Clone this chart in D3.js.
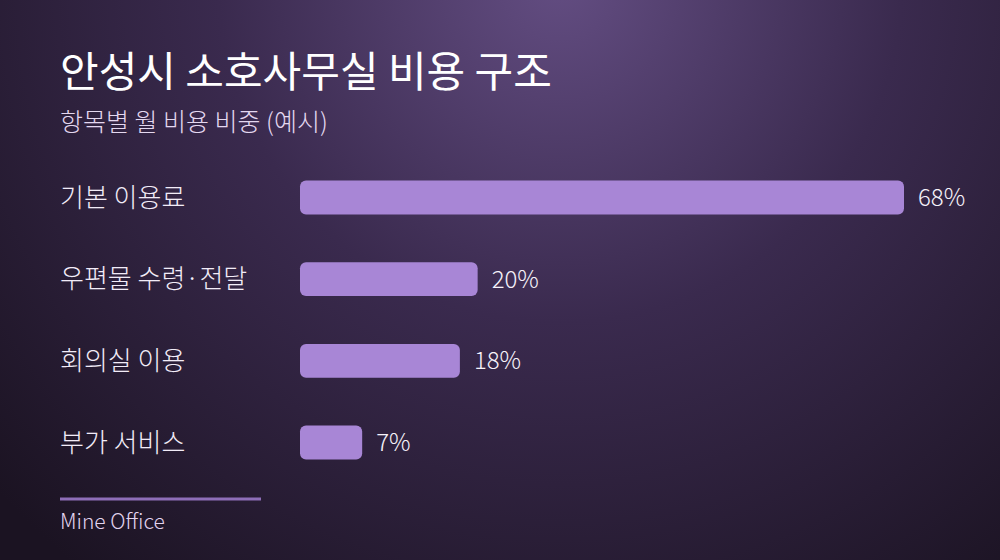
<!DOCTYPE html>
<html>
<head>
<meta charset="utf-8">
<script src="https://cdn.jsdelivr.net/npm/d3@7"></script>
<style>
  html, body { margin: 0; padding: 0; background: #1e1628; }
  svg { display: block; font-family: "Noto Sans CJK KR", "Noto Sans", sans-serif; }
</style>
</head>
<body>
<div id="app"></div>
<script>
// 항목별 비중 (%)
var categories = ['기본 이용료', '우편물 수령·전달', '회의실 이용', '부가 서비스'];
var values = [68, 20, 18, 7];
var valueLabels = ['68%', '20%', '18%', '7%'];

var width = 1000, height = 560;

var svg = d3.select('#app')
    .append('svg')
    .attr('width', width)
    .attr('height', height);

var defs = svg.append('defs');
var bg = defs.append('radialGradient')
    .attr('id', 'bg')
    .attr('gradientUnits', 'userSpaceOnUse')
    .attr('cx', 560).attr('cy', -20).attr('r', 760);
bg.append('stop').attr('offset', '0%').attr('stop-color', '#634d82');
bg.append('stop').attr('offset', '45%').attr('stop-color', '#3a2a4e');
bg.append('stop').attr('offset', '100%').attr('stop-color', '#1b1322');

svg.append('rect')
    .attr('width', width)
    .attr('height', height)
    .attr('fill', 'url(#bg)');

// 제목
svg.append('text')
    .attr('x', 60).attr('y', 87)
    .attr('fill', '#ffffff')
    .style('font-size', '42px')
    .style('font-weight', 400)
    .text('안성시 소호사무실 비용 구조');

svg.append('text')
    .attr('x', 60).attr('y', 131)
    .attr('fill', '#e4d8f0')
    .style('font-size', '25px')
    .style('font-weight', 300)
    .text('항목별 월 비용 비중 (예시)');

var x = d3.scaleLinear()
    .domain([0, 68])
    .range([300, 904]);

var y = d3.scaleBand()
    .domain(categories)
    .range([156, 484])
    .paddingInner(0.585)
    .paddingOuter(0.3);

var rows = svg.append('g')
    .selectAll('g')
    .data(categories)
    .enter()
    .append('g');

rows.append('text')
    .attr('x', 60)
    .attr('y', function (d) { return y(d) + y.bandwidth() / 2; })
    .attr('dy', '0.35em')
    .attr('fill', '#f2ecf8')
    .style('font-size', '26px')
    .style('font-weight', 300)
    .text(function (d) { return d; });

rows.append('rect')
    .attr('x', x(0))
    .attr('y', function (d) { return y(d); })
    .attr('width', function (d, i) { return x(values[i]) - x(0); })
    .attr('height', y.bandwidth())
    .attr('rx', 6)
    .attr('fill', '#a886d6');

rows.append('text')
    .attr('x', function (d, i) { return x(values[i]) + 14; })
    .attr('y', function (d) { return y(d) + y.bandwidth() / 2; })
    .attr('dy', '0.35em')
    .attr('fill', '#f6f2fa')
    .style('font-size', '24px')
    .style('font-weight', 300)
    .text(function (d, i) { return valueLabels[i]; });

// 하단 출처
svg.append('line')
    .attr('x1', 60).attr('x2', 261)
    .attr('y1', 499).attr('y2', 499)
    .attr('stroke', '#8e6eb8')
    .attr('stroke-width', 3);

svg.append('text')
    .attr('x', 60).attr('y', 529)
    .attr('fill', '#e2d4ef')
    .style('font-size', '21px')
    .style('font-weight', 300)
    .text('Mine Office');
</script>
</body>
</html>
